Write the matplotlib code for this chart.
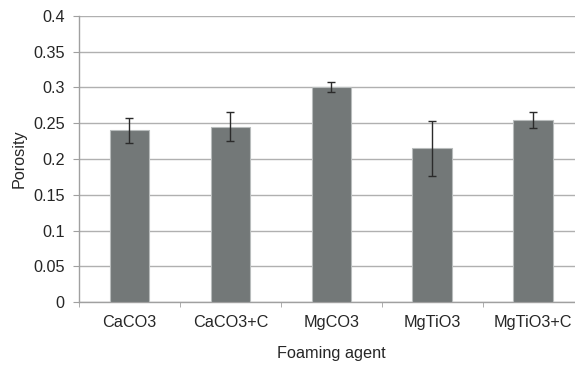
import matplotlib
matplotlib.use("Agg")
import matplotlib.pyplot as plt
import numpy as np

# porosity per foaming agent
agents = ["CaCO3", "CaCO3+C", "MgCO3", "MgTiO3", "MgTiO3+C"]
porosity = [0.240, 0.245, 0.301, 0.215, 0.255]
porosity_err = [0.017, 0.020, 0.007, 0.038, 0.011]
yticks = [0, 0.05, 0.1, 0.15, 0.2, 0.25, 0.3, 0.35, 0.4]
ytick_labels = ["0", "0.05", "0.1", "0.15", "0.2", "0.25", "0.3", "0.35", "0.4"]

plt.rcParams['font.family'] = ['Liberation Sans', 'DejaVu Sans']
FS = 11.7
TXT = '#262626'

fig = plt.figure(figsize=(5.75, 3.65), dpi=100)
# plot area runs past the right edge, like the cropped original
ax = fig.add_axes([0.1374, 0.1718, 0.8774, 0.785])

x = np.arange(len(agents))
ax.bar(x, porosity, width=0.39, color='#737878', edgecolor='#b8bcbc', linewidth=0.8, zorder=3)
ax.errorbar(x, porosity, yerr=porosity_err, fmt='none', ecolor='#2b2b2b',
            elinewidth=1.0, capsize=3, capthick=1.0, zorder=4)

ax.set_xlim(-0.5, len(agents) - 0.5)
ax.set_ylim(0, 0.4)
ax.set_yticks(yticks)
ax.set_yticklabels(ytick_labels, fontsize=FS, color=TXT)
ax.set_xticks(x)
ax.set_xticklabels(agents, fontsize=FS, color=TXT)
ax.set_xticks(np.arange(len(agents) + 1) - 0.5, minor=True)

ax.tick_params(axis='x', which='major', length=0, pad=9)
ax.tick_params(axis='x', which='minor', length=3.5, color='#a0a0a0', direction='out')
ax.tick_params(axis='y', length=4.3, color='#a0a0a0', direction='out', pad=6)

ax.grid(axis='y', color='#b0b0b0', linewidth=1.0, zorder=0)
for side in ['top', 'right']:
    ax.spines[side].set_visible(False)
for side in ['left', 'bottom']:
    ax.spines[side].set_color('#a0a0a0')
    ax.spines[side].set_linewidth(1.0)

ax.set_ylabel("Porosity", fontsize=FS, color=TXT, labelpad=5)
ax.set_xlabel("Foaming agent", fontsize=FS, color=TXT, labelpad=12)

fig.savefig("out.png", dpi=100)
